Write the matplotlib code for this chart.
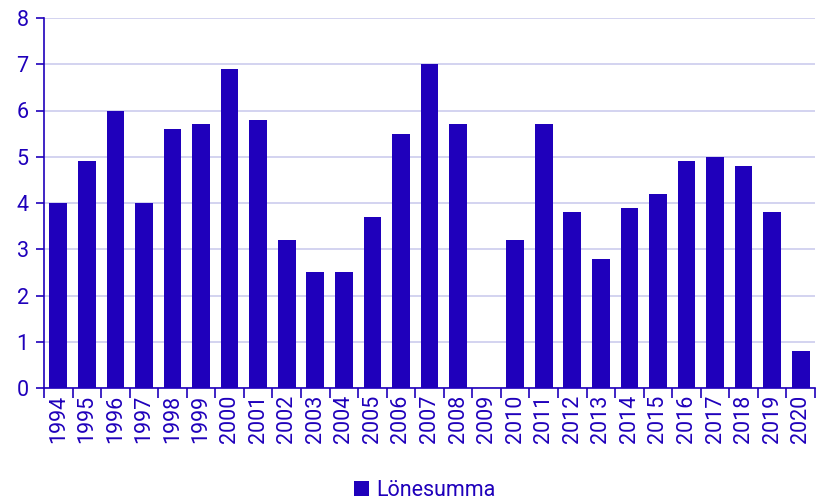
import matplotlib
matplotlib.use("Agg")
import matplotlib.pyplot as plt
from matplotlib.patches import Patch

years = [str(y) for y in range(1994, 2021)]
values = [4.0, 4.9, 6.0, 4.0, 5.6, 5.7, 6.9, 5.8, 3.2, 2.5, 2.5, 3.7, 5.5, 7.0,
          5.7, 0.0, 3.2, 5.7, 3.8, 2.8, 3.9, 4.2, 4.9, 5.0, 4.8, 3.8, 0.8]
yticks = [0, 1, 2, 3, 4, 5, 6, 7, 8]
series_name = "Lönesumma"

color = "#1F00BB"
plt.rcParams['font.family'] = ['Roboto', 'DejaVu Sans']
fs = 15.5

fig = plt.figure(figsize=(8.19, 5.0), dpi=100)
ax = fig.add_axes([44/819, 1-388/500, (815-44)/819, (388-18)/500])

x = list(range(len(years)))
ax.bar(x, values, width=0.62, color=color, zorder=3)
ax.set_xlim(-0.5, len(years)-0.5)
ax.set_ylim(0, 8)
ax.set_yticks(yticks)
ax.set_yticklabels([str(t) for t in yticks], fontsize=fs, color=color)
ax.yaxis.grid(True, color="#CCCCEE", linewidth=1.2, zorder=0)
ax.set_xticks(x)
ax.set_xticklabels(years, rotation=90, fontsize=fs, color=color)
ax.set_xticks([i - 0.5 for i in range(len(years)+1)], minor=True)
ax.tick_params(axis='x', which='major', length=0, pad=5)
ax.tick_params(axis='x', which='minor', length=7, color=color, width=1.2)
ax.tick_params(axis='y', length=6, color=color, width=1.2, pad=5)
for s in ['top', 'right']:
    ax.spines[s].set_visible(False)
for s in ['left', 'bottom']:
    ax.spines[s].set_color(color)
    ax.spines[s].set_linewidth(1.2)

handles = [Patch(facecolor=color, label=series_name)]
fig.legend(handles=handles, loc='lower center', bbox_to_anchor=(0.519, -0.04),
           frameon=False, fontsize=fs, handlelength=0.7, handleheight=0.7,
           handletextpad=0.35, labelcolor=color)

fig.savefig("out.png", dpi=100)
